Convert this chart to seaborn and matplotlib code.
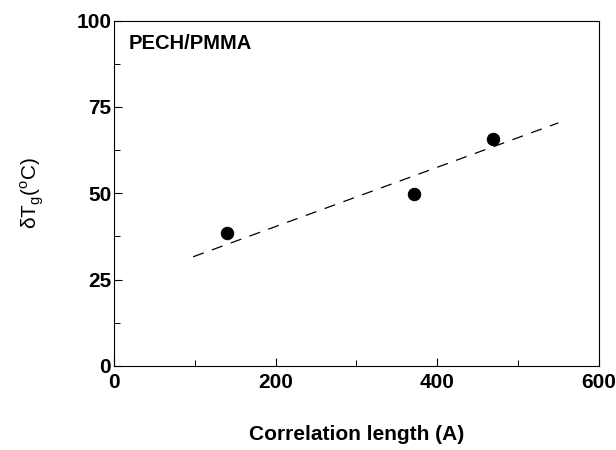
import numpy as np
import pandas as pd
import seaborn as sns
import matplotlib.pyplot as plt
from matplotlib.ticker import MultipleLocator

# measured points
corr_length = [140, 371, 469]
delta_tg = [38.5, 49.8, 65.6]

# dashed guide line (end points)
fit_x = [98, 550]
fit_y = [31.6, 70.4]

sns.set_style("ticks")
plt.rcParams['font.family'] = ['Liberation Sans', 'DejaVu Sans']
plt.rcParams['text.color'] = 'black'
plt.rcParams['axes.labelcolor'] = 'black'
plt.rcParams['xtick.color'] = 'black'
plt.rcParams['ytick.color'] = 'black'
plt.rcParams['axes.edgecolor'] = 'black'

df = pd.DataFrame({"x": corr_length, "y": delta_tg})
fit = pd.DataFrame({"x": fit_x, "y": fit_y})

fig = plt.figure(figsize=(6.16, 4.5), dpi=100)
ax = fig.add_axes([0.185, 0.187, 0.787, 0.767])

sns.lineplot(data=fit, x="x", y="y", color="black", lw=0.9,
             dashes=False, ax=ax)
ax.lines[0].set_dashes((9, 7))
sns.scatterplot(data=df, x="x", y="y", color="black", s=80,
                edgecolor="black", zorder=3, ax=ax)

ax.set_xlim(0, 600)
ax.set_ylim(0, 100)
ax.xaxis.set_major_locator(MultipleLocator(200))
ax.xaxis.set_minor_locator(MultipleLocator(100))
ax.yaxis.set_major_locator(MultipleLocator(25))
ax.yaxis.set_minor_locator(MultipleLocator(12.5))
ax.tick_params(which="major", direction="in", length=6, width=0.8,
               labelsize=15, pad=2)
ax.tick_params(axis="x", which="major", pad=5)
ax.tick_params(which="minor", direction="in", length=4, width=0.7)
for lab in ax.get_xticklabels() + ax.get_yticklabels():
    lab.set_fontweight("bold")
for sp in ax.spines.values():
    sp.set_linewidth(0.8)

ax.set_xlabel("Correlation length (A)", fontsize=15, fontweight="bold",
              labelpad=24)
ax.set_ylabel(r"δT$_\mathregular{g}$($^\mathregular{o}$C)",
              fontsize=15, labelpad=22)
ax.text(0.031, 0.935, "PECH/PMMA", transform=ax.transAxes,
        fontsize=14.5, fontweight="bold", va="center", ha="left")

fig.savefig("out.png", dpi=100)
